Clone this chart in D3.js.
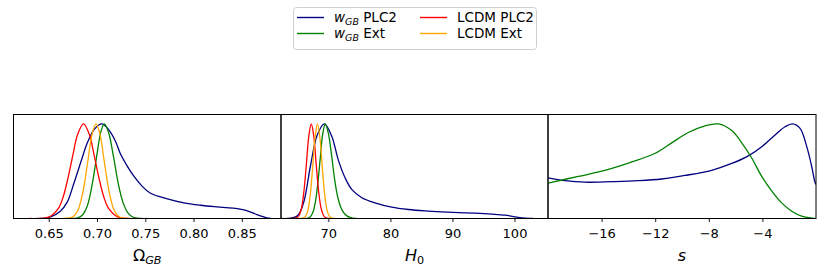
<!DOCTYPE html>
<html>
<head>
<meta charset="utf-8">
<script src="https://cdn.jsdelivr.net/npm/d3@7"></script>
<style>
  body { margin: 0; background: #fff; }
  svg { font-family: "DejaVu Sans", sans-serif; }
  .tick text { fill: #000; }
  .tick line { stroke: #000; stroke-width: 0.9; }
  .curve { fill: none; stroke-width: 1.3; }
</style>
</head>
<body>
<div id="chart"></div>
<script>
// series names / colours
var seriesNames = ["wGB PLC2", "wGB Ext", "LCDM PLC2", "LCDM Ext"];
var seriesColors = ["#000080", "#008000", "#ff0000", "#ffa500"];

// Omega_GB panel
var omegaBlue = [[0.640,0],[0.652,0.018],[0.662,0.077],[0.669,0.17],[0.676,0.37],[0.683,0.59],[0.690,0.80],[0.697,0.94],[0.705,1.0],[0.712,0.94],[0.719,0.82],[0.724,0.69],[0.731,0.56],[0.738,0.45],[0.746,0.35],[0.755,0.27],[0.772,0.21],[0.790,0.165],[0.807,0.14],[0.824,0.123],[0.841,0.109],[0.855,0.084],[0.8655,0.042],[0.8758,0.007],[0.880,0]];
var omegaGreen = [[0.668,0],[0.675,0.001],[0.680,0.007],[0.685,0.037],[0.690,0.135],[0.695,0.36],[0.700,0.68],[0.704,0.916],[0.7076,1.0],[0.712,0.91],[0.717,0.66],[0.722,0.37],[0.727,0.168],[0.732,0.059],[0.737,0.016],[0.745,0.001],[0.752,0]];
var omegaRed = [[0.630,0],[0.640,0.001],[0.650,0.014],[0.660,0.107],[0.665,0.23],[0.670,0.43],[0.675,0.67],[0.680,0.89],[0.686,1.0],[0.692,0.89],[0.697,0.67],[0.702,0.43],[0.707,0.23],[0.712,0.107],[0.722,0.014],[0.732,0.001],[0.740,0]];
var omegaOrange = [[0.664,0],[0.670,0.003],[0.675,0.019],[0.680,0.082],[0.685,0.26],[0.690,0.57],[0.695,0.895],[0.699,1.0],[0.703,0.895],[0.708,0.57],[0.713,0.26],[0.718,0.082],[0.723,0.019],[0.728,0.003],[0.733,0]];

// H0 panel
var h0Blue = [[62.5,0],[64.95,0.025],[66.0,0.165],[67.1,0.55],[68.2,0.88],[69.35,1.0],[70.55,0.87],[71.6,0.62],[72.7,0.43],[73.8,0.305],[75.4,0.22],[77.5,0.165],[80.2,0.12],[82.9,0.095],[85.6,0.08],[88.3,0.07],[91.0,0.063],[93.7,0.056],[96.4,0.046],[98.5,0.035],[100.1,0.018],[101.7,0.004],[103.0,0]];
var h0Green = [[66.3,0],[66.7,0.004],[67.1,0.019],[67.5,0.063],[67.9,0.17],[68.3,0.37],[68.7,0.64],[69.1,0.895],[69.5,1.0],[70.0,0.90],[70.5,0.68],[71.0,0.42],[71.5,0.23],[72.0,0.12],[72.5,0.06],[73.0,0.028],[73.5,0.011],[74.0,0.004],[74.5,0]];
var h0Red = [[64.0,0],[64.45,0.001],[64.85,0.006],[65.25,0.029],[65.65,0.103],[66.05,0.278],[66.45,0.566],[66.85,0.87],[67.25,1.0],[67.65,0.87],[68.05,0.566],[68.45,0.278],[68.85,0.103],[69.25,0.029],[69.65,0.006],[70.05,0.001],[70.5,0]];
var h0Orange = [[65.4,0],[65.85,0.003],[66.25,0.017],[66.65,0.073],[67.05,0.23],[67.45,0.52],[67.85,0.85],[68.25,1.0],[68.65,0.85],[69.05,0.52],[69.45,0.23],[69.85,0.073],[70.25,0.017],[70.65,0.003],[71.1,0]];

// s panel
var sBlue = [[-20,0.43],[-18.73,0.40],[-17.24,0.384],[-15.25,0.39],[-13.26,0.40],[-11.51,0.418],[-9.78,0.455],[-7.78,0.51],[-6.29,0.582],[-5.05,0.663],[-4.05,0.76],[-3.06,0.884],[-2.31,0.97],[-1.76,1.0],[-1.19,0.954],[-0.69,0.76],[-0.32,0.55],[-0.07,0.38],[0,0.36]];
var sGreen = [[-20,0.375],[-17.74,0.445],[-15.99,0.50],[-14.0,0.586],[-12.0,0.69],[-10.77,0.80],[-9.53,0.91],[-8.28,0.98],[-7.29,1.0],[-6.29,0.93],[-5.54,0.80],[-4.8,0.64],[-4.05,0.445],[-3.3,0.29],[-2.56,0.165],[-1.81,0.077],[-1.07,0.025],[-0.32,0.004],[0,0]];

// tick values
var omegaTicks = [0.65, 0.70, 0.75, 0.80, 0.85];
var h0Ticks = [70, 80, 90, 100];
var sTicks = [-16, -12, -8, -4];

var panels = [
  {left: 13.5, right: 281, domain: [0.6135, 0.8906], ticks: omegaTicks, fmt: d3.format(".2f"),
   curves: [omegaBlue, omegaGreen, omegaRed, omegaOrange], colors: [0, 1, 2, 3], label: "omega"},
  {left: 281, right: 548, domain: [62.37, 105.4], ticks: h0Ticks, fmt: d3.format("d"),
   curves: [h0Blue, h0Green, h0Red, h0Orange], colors: [0, 1, 2, 3], label: "h0"},
  {left: 548, right: 816, domain: [-20, 0], ticks: sTicks, fmt: function(d) { return d3.format("d")(d).replace("-", "\u2212"); },
   curves: [sBlue, sGreen], colors: [0, 1], label: "s"}
];

var plotTop = 114.5, plotBottom = 218.5;
var yScale = d3.scaleLinear().domain([0, 1.1]).range([plotBottom, plotTop]);

var svg = d3.select("#chart").append("svg")
    .attr("width", 830)
    .attr("height", 276);

panels.forEach(function(p, i) {
  var xScale = d3.scaleLinear().domain(p.domain).range([p.left, p.right]);

  svg.append("clipPath")
      .attr("id", "clip" + i)
    .append("rect")
      .attr("x", p.left).attr("y", plotTop)
      .attr("width", p.right - p.left).attr("height", plotBottom - plotTop);

  var line = d3.line()
      .x(function(d) { return xScale(d[0]); })
      .y(function(d) { return yScale(d[1]); })
      .curve(d3.curveCatmullRom.alpha(0.5));

  var g = svg.append("g").attr("clip-path", "url(#clip" + i + ")");
  p.curves.forEach(function(c, k) {
    g.append("path")
        .datum(c)
        .attr("class", "curve")
        .attr("stroke", seriesColors[p.colors[k]])
        .attr("d", line);
  });

  // frame
  svg.append("rect")
      .attr("x", p.left).attr("y", plotTop)
      .attr("width", p.right - p.left).attr("height", plotBottom - plotTop)
      .attr("fill", "none")
      .attr("stroke", "#000")
      .attr("stroke-width", 1);

  // x axis
  var ax = svg.append("g")
      .attr("transform", "translate(0," + plotBottom + ")")
      .call(d3.axisBottom(xScale).tickValues(p.ticks).tickFormat(p.fmt)
            .tickSize(3.5).tickSizeOuter(0).tickPadding(6.5));
  ax.select(".domain").remove();
  ax.selectAll("text").attr("font-family", "DejaVu Sans").attr("font-size", 13);

  // axis label
  var cx = (p.left + p.right) / 2;
  var t = svg.append("text")
      .attr("x", cx).attr("y", 261)
      .attr("text-anchor", "middle")
      .attr("font-size", 16)
      .attr("fill", "#000");
  if (p.label === "omega") {
    t.append("tspan").text("\u03A9");
    t.append("tspan").attr("font-style", "italic").attr("font-size", 11.2).attr("dy", 3).text("GB");
  } else if (p.label === "h0") {
    t.append("tspan").attr("font-style", "italic").text("H");
    t.append("tspan").attr("font-size", 11.2).attr("dy", 3).text("0");
  } else {
    t.append("tspan").attr("font-style", "italic").text("s");
  }
});

// legend
var legend = svg.append("g");
legend.append("rect")
    .attr("x", 293.5).attr("y", 7.5)
    .attr("width", 243).attr("height", 42)
    .attr("rx", 3)
    .attr("fill", "#fff")
    .attr("stroke", "#d0d0d0")
    .attr("stroke-width", 1);

var legendPos = [
  {x: 297, y: 17.5}, {x: 297, y: 33.5}, {x: 420, y: 17.5}, {x: 420, y: 33.5}
];
seriesNames.forEach(function(name, i) {
  var pos = legendPos[i];
  legend.append("line")
      .attr("x1", pos.x).attr("x2", pos.x + 27)
      .attr("y1", pos.y).attr("y2", pos.y)
      .attr("stroke", seriesColors[i])
      .attr("stroke-width", 1.4);
  var t = legend.append("text")
      .attr("x", pos.x + 37).attr("y", pos.y + 4.8)
      .attr("font-size", 13.5)
      .attr("fill", "#000");
  if (name.indexOf("wGB") === 0) {
    t.append("tspan").attr("font-style", "italic").text("w");
    t.append("tspan").attr("font-style", "italic").attr("font-size", 9.5).attr("dy", 2.5).text("GB");
    t.append("tspan").attr("dy", -2.5).text(" " + name.slice(4));
  } else {
    t.text(name);
  }
});
</script>
</body>
</html>
